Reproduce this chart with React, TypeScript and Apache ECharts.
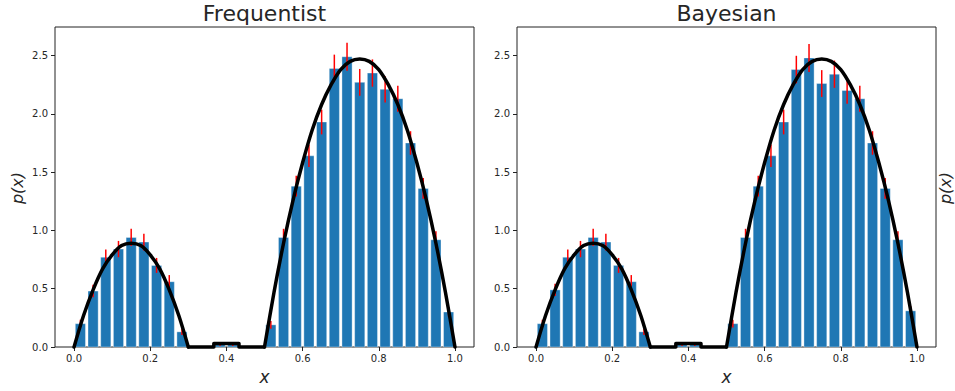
import React, { useEffect, useRef } from "react";
import * as echarts from "echarts";

// ---- data ----
const binCount = 30;
const binCenters = Array.from({ length: binCount }, (_, i) => (i + 0.5) / binCount);

const freqHeights = [
  0.20, 0.48, 0.77, 0.84, 0.94, 0.90, 0.70, 0.56, 0.13, 0.0,
  0.0, 0.02, 0.02, 0.0, 0.0, 0.19, 0.94, 1.38, 1.64, 1.93,
  2.39, 2.49, 2.27, 2.35, 2.21, 2.13, 1.75, 1.36, 0.92, 0.30,
];
const freqErrors = [
  0.034, 0.053, 0.067, 0.070, 0.074, 0.072, 0.064, 0.057, 0.027, 0.0,
  0.0, 0.011, 0.011, 0.0, 0.0, 0.033, 0.074, 0.089, 0.097, 0.106,
  0.118, 0.120, 0.115, 0.117, 0.113, 0.111, 0.101, 0.089, 0.073, 0.042,
];
const bayesHeights = [
  0.20, 0.49, 0.77, 0.84, 0.94, 0.90, 0.70, 0.56, 0.13, 0.0,
  0.0, 0.02, 0.02, 0.0, 0.0, 0.20, 0.94, 1.38, 1.64, 1.93,
  2.38, 2.48, 2.26, 2.34, 2.20, 2.13, 1.75, 1.36, 0.92, 0.31,
];
const bayesErrors = [
  0.034, 0.053, 0.067, 0.070, 0.074, 0.072, 0.064, 0.057, 0.027, 0.0,
  0.0, 0.011, 0.011, 0.0, 0.0, 0.033, 0.074, 0.089, 0.097, 0.106,
  0.118, 0.120, 0.115, 0.117, 0.113, 0.111, 0.101, 0.089, 0.073, 0.042,
];

// true density curve
const curveHump1: [number, number][] = [
  [0.0, 0], [0.025, 0.27], [0.05, 0.49], [0.075, 0.67], [0.1, 0.79], [0.125, 0.87],
  [0.15, 0.89], [0.175, 0.87], [0.2, 0.79], [0.225, 0.67], [0.25, 0.49], [0.275, 0.27], [0.3, 0],
];
const curveMiddle: [number, number][] = [
  [0.3, 0], [0.367, 0], [0.367, 0.03], [0.433, 0.03], [0.433, 0], [0.5, 0],
];
const curveHump2: [number, number][] = [
  [0.5, 0], [0.525, 0.47], [0.55, 0.89], [0.575, 1.26], [0.6, 1.58], [0.625, 1.86],
  [0.65, 2.08], [0.675, 2.25], [0.7, 2.38], [0.725, 2.45], [0.75, 2.47], [0.775, 2.45],
  [0.8, 2.38], [0.825, 2.25], [0.85, 2.08], [0.875, 1.86], [0.9, 1.58], [0.925, 1.26],
  [0.95, 0.89], [0.975, 0.47], [1.0, 0],
];

const xTicks = [0, 0.2, 0.4, 0.6, 0.8, 1.0];
const yTicks = [0, 0.5, 1.0, 1.5, 2.0, 2.5];
const titles = ["Frequentist", "Bayesian"];

const FONT = "DejaVu Sans";
const TEXT = "#262626";

export default function App() {
  const ref = useRef<HTMLDivElement>(null);
  useEffect(() => {
    if (!ref.current) return;
    const chart = echarts.init(ref.current, null, { renderer: "svg" });
    const grids = [
      { left: 55, top: 27, width: 419, height: 320 },
      { left: 517, top: 27, width: 419, height: 320 },
    ];
    const barW = 0.8 / binCount;
    const panels = [
      { h: freqHeights, e: freqErrors },
      { h: bayesHeights, e: bayesErrors },
    ];
    const xAxes: any[] = [];
    const yAxes: any[] = [];
    const series: any[] = [];
    panels.forEach((p, gi) => {
      xAxes.push({
        type: "value",
        gridIndex: gi,
        position: "bottom",
        min: -0.05,
        max: 1.05,
        splitLine: { show: false },
        axisLine: { show: false, onZero: false },
        axisTick: { show: true, customValues: xTicks, length: 4, lineStyle: { color: "#222" } },
        axisLabel: {
          customValues: xTicks,
          formatter: (v: number) => v.toFixed(1),
          fontFamily: FONT,
          fontSize: 10,
          color: TEXT,
          margin: 6,
        },
      });
      yAxes.push({
        type: "value",
        gridIndex: gi,
        position: "left",
        min: 0,
        max: 2.745,
        splitLine: { show: false },
        axisLine: { show: false, onZero: false },
        axisTick: { show: true, customValues: yTicks, length: 4, lineStyle: { color: "#222" } },
        axisLabel: {
          customValues: yTicks,
          formatter: (v: number) => v.toFixed(1),
          fontFamily: FONT,
          fontSize: 10,
          color: TEXT,
          margin: 7,
        },
      });
      const barData = binCenters.map((c, i) => [c, p.h[i]]);
      const errData = binCenters.map((c, i) => [c, p.h[i], p.e[i]]);
      series.push({
        type: "custom",
        xAxisIndex: gi,
        yAxisIndex: gi,
        z: 2,
        data: barData,
        renderItem: (params: any, api: any) => {
          const x = api.value(0);
          const y = api.value(1);
          if (y <= 0) return null;
          const p0 = api.coord([x - barW / 2, y]);
          const p1 = api.coord([x + barW / 2, 0]);
          return {
            type: "rect",
            shape: { x: p0[0], y: p0[1], width: p1[0] - p0[0], height: p1[1] - p0[1] },
            style: { fill: "#1f77b4", stroke: "rgba(255,255,255,0.35)", lineWidth: 1 },
          };
        },
      });
      series.push({
        type: "custom",
        xAxisIndex: gi,
        yAxisIndex: gi,
        z: 3,
        data: errData,
        renderItem: (params: any, api: any) => {
          const x = api.value(0);
          const y = api.value(1);
          const e = api.value(2);
          if (e <= 0) return null;
          const a = api.coord([x, y - e]);
          const b = api.coord([x, y + e]);
          return {
            type: "line",
            shape: { x1: a[0], y1: a[1], x2: b[0], y2: b[1] },
            style: { stroke: "#ff0000", lineWidth: 1.5 },
          };
        },
      });
      [curveHump1, curveMiddle, curveHump2].forEach((d, k) => {
        series.push({
          type: "line",
          xAxisIndex: gi,
          yAxisIndex: gi,
          z: 4,
          data: d,
          smooth: k === 1 ? false : 0.3,
          showSymbol: false,
          symbol: "none",
          clip: false,
          lineStyle: { color: "#000", width: 3.5, join: "round", cap: "round" },
        });
      });
    });

    const graphic: any[] = [];
    grids.forEach((g, gi) => {
      graphic.push({
        type: "text",
        x: g.left + g.width / 2,
        y: 13,
        style: {
          text: titles[gi],
          font: `22px '${FONT}'`,
          fill: TEXT,
          textAlign: "center",
          textVerticalAlign: "middle",
        },
      });
      graphic.push({
        type: "text",
        x: g.left + g.width / 2,
        y: 377,
        style: {
          text: "x",
          font: `italic 17px '${FONT}'`,
          fill: TEXT,
          textAlign: "center",
          textVerticalAlign: "middle",
        },
      });
    });
    graphic.push({
      type: "text",
      x: 17,
      y: 188,
      rotation: Math.PI / 2,
      style: {
        text: "p(x)",
        font: `italic 16px '${FONT}'`,
        fill: TEXT,
        textAlign: "center",
        textVerticalAlign: "middle",
      },
    });
    graphic.push({
      type: "text",
      x: 945,
      y: 188,
      rotation: Math.PI / 2,
      style: {
        text: "p(x)",
        font: `italic 16px '${FONT}'`,
        fill: TEXT,
        textAlign: "center",
        textVerticalAlign: "middle",
      },
    });

    chart.setOption({
      animation: false,
      backgroundColor: "#fff",
      grid: grids.map((g) => ({ ...g, show: true, borderColor: "#222", borderWidth: 1, backgroundColor: "transparent" })),
      xAxis: xAxes,
      yAxis: yAxes,
      series,
      graphic,
    });
    return () => chart.dispose();
  }, []);
  return (
    <div
      ref={ref}
      style={{ position: "fixed", left: 0, top: 0, width: 955, height: 391, background: "#fff" }}
    />
  );
}
